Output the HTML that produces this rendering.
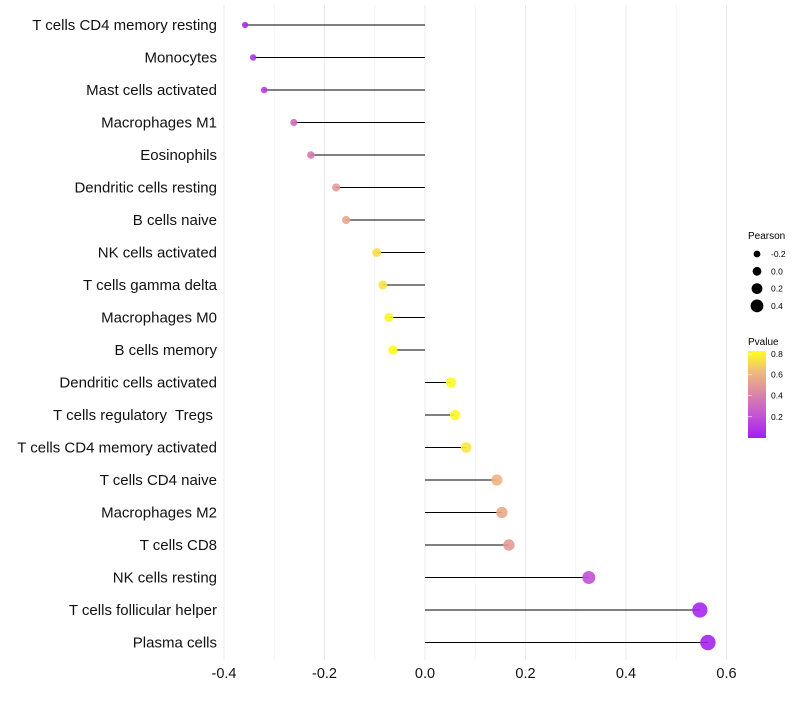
<!DOCTYPE html>
<html><head><meta charset="utf-8"><style>
body{margin:0;background:#fff;font-family:"Liberation Sans",sans-serif}
text{white-space:pre}
</style></head><body>
<svg id="chart" width="800" height="700" xmlns="http://www.w3.org/2000/svg" font-family="Liberation Sans, sans-serif">
<defs><linearGradient id="pg" x1="0" y1="1" x2="0" y2="0">
<stop offset="0" stop-color="#a31ff0"/><stop offset="0.25" stop-color="#c352d6"/><stop offset="0.5" stop-color="#d984a8"/><stop offset="0.75" stop-color="#efb880"/><stop offset="1" stop-color="#ffff1a"/>
</linearGradient></defs>
<g id="grid"></g><g id="marks"></g><g id="labels"></g>
<g id="legend">
<text x="748" y="239" font-size="10">Pearson</text>
<text x="748" y="345" font-size="10">Pvalue</text>
<rect x="748" y="351" width="18" height="87" fill="url(#pg)"/>
</g>
</svg>
<script>
const categories=["T cells CD4 memory resting","Monocytes","Mast cells activated","Macrophages M1","Eosinophils","Dendritic cells resting","B cells naive","NK cells activated","T cells gamma delta","Macrophages M0","B cells memory","Dendritic cells activated","T cells regulatory  Tregs ","T cells CD4 memory activated","T cells CD4 naive","Macrophages M2","T cells CD8","NK cells resting","T cells follicular helper","Plasma cells"];
const pearson=[-0.358,-0.342,-0.320,-0.261,-0.227,-0.177,-0.157,-0.096,-0.084,-0.072,-0.064,0.052,0.060,0.082,0.143,0.153,0.167,0.326,0.547,0.563];
const pvalues=[0.04,0.08,0.12,0.3,0.36,0.5,0.55,0.72,0.73,0.79,0.82,0.82,0.8,0.75,0.6,0.56,0.5,0.2,0.03,0.02];
const xTicks=[-0.4,-0.2,0,0.2,0.4,0.6];
const minorTicks=[-0.3,-0.1,0.1,0.3,0.5];
const legendSizes=[-0.2,0,0.2,0.4];
const legendP=[0.8,0.6,0.4,0.2];
const NS="http://www.w3.org/2000/svg";
const x=v=>425+v*502.5, y=i=>25+i*32.5, r=v=>4.9+5*v;
const stops=[[0,[163,31,240]],[0.205,[195,82,214]],[0.41,[217,132,168]],[0.615,[239,184,128]],[0.82,[255,255,26]]];
function col(p){p=Math.max(0,Math.min(0.82,p));for(let k=1;k<stops.length;k++){if(p<=stops[k][0]){const a=stops[k-1],b=stops[k],t=(p-a[0])/(b[0]-a[0]);return "rgb("+a[1].map((c,j)=>Math.round(c+(b[1][j]-c)*t)).join(",")+")";}}}
function mk(tag,at,parent){const e=document.createElementNS(NS,tag);for(const k in at)e.setAttribute(k,at[k]);document.getElementById(parent).appendChild(e);return e;}
minorTicks.forEach(t=>{const l=mk('line',{x1:x(t),x2:x(t),y1:5,y2:660,stroke:'#f2f2f2','stroke-width':0.8},'grid');

});
xTicks.forEach(t=>{const l=mk('line',{x1:x(t),x2:x(t),y1:5,y2:660,stroke:'#ebebeb','stroke-width':1},'grid');


const tx=mk('text',{x:x(t),y:678,'font-size':14.5,'text-anchor':'middle',fill:'#111'},'labels');tx.textContent=t.toFixed(1);

});
categories.forEach((c,i)=>{const yy=y(i);
const l=mk('line',{x1:x(0),x2:x(pearson[i]),y1:yy,y2:yy,stroke:'#000','stroke-width':1},'marks');


const ci=mk('circle',{cx:x(pearson[i]),cy:yy,r:r(pearson[i]),fill:col(pvalues[i]),'fill-opacity':0.9},'marks');


const t=mk('text',{x:217,y:yy+5,'font-size':15,'text-anchor':'end',fill:'#111'},'labels');t.textContent=c;

});
legendSizes.forEach((s,k)=>{const yy=254+k*17.3;
const ci=mk('circle',{cx:757,cy:yy,r:r(s)-0.5,fill:'#000'},'legend');


const t=mk('text',{x:771,y:yy+3,'font-size':8.5},'legend');t.textContent=s.toFixed(1);

});
legendP.forEach(p=>{const yy=438-(p/0.82)*87+(p===0.8?1:0);
const ln=mk('line',{x1:748,x2:752,y1:yy,y2:yy,stroke:'#fff','stroke-width':0.6},'legend');


const t=mk('text',{x:771,y:yy+3,'font-size':8.5},'legend');t.textContent=p.toFixed(1);

});
</script>
</body></html>
